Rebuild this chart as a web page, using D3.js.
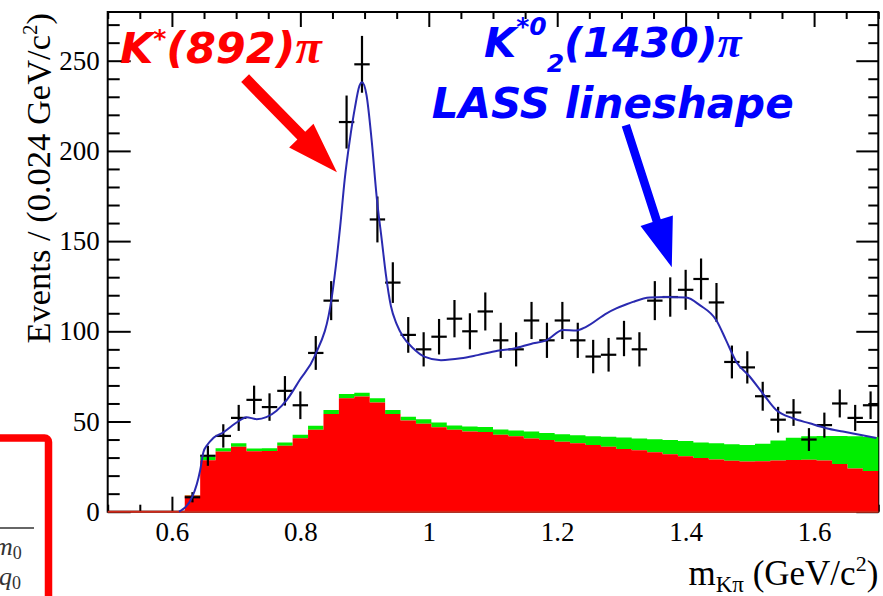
<!DOCTYPE html>
<html>
<head>
<meta charset="utf-8">
<script src="https://cdn.jsdelivr.net/npm/d3@7"></script>
<style>
  body { margin: 0; background: #fff; }
  svg { display: block; }
</style>
</head>
<body>
<svg id="chart" width="883" height="596"></svg>
<script>
// K-pi invariant mass spectrum: data, fit and stacked background components.
const massCenters = [
  0.632, 0.656, 0.680, 0.704, 0.728, 0.752, 0.776, 0.800, 0.824, 0.848,
  0.872, 0.896, 0.920, 0.944, 0.968, 0.992, 1.016, 1.040, 1.064, 1.088,
  1.112, 1.136, 1.160, 1.184, 1.208, 1.232, 1.256, 1.280, 1.304, 1.328,
  1.352, 1.376, 1.400, 1.424, 1.448, 1.472, 1.496, 1.520, 1.544, 1.568,
  1.592, 1.616, 1.640, 1.664, 1.688
];
const events = [
  8, 31, 42, 52, 62, 58, 67, 59, 88, 117,
  216, 248, 162, 127, 98, 90, 97, 107, 100, 111,
  95, 90, 106, 95, 106, 95, 86, 87, 96, 90,
  117, 119, 123, 129, 116, 83, 80, 64, 51, 55,
  40, 48, 60, 52, 59
];
const bkgRed = [
  9, 28.5, 33.4, 36, 33.5, 33.7, 36.5, 40.7, 45.4, 54.2,
  62.9, 63.8, 60.5, 54.2, 50.5, 48.7, 46.8, 45.4, 44.4, 44.2,
  42.6, 41.8, 40.6, 39.8, 38.8, 38, 37, 36, 34.8, 34,
  33, 31.8, 30.8, 29.8, 29, 28.2, 27.8, 28, 28.4, 28.6,
  28.8, 28.4, 26.5, 24, 22.5
];
const bkgGreen = [
  0.3, 1.8, 1.8, 2.0, 1.5, 1.5, 1.8, 1.9, 2.2, 2.2,
  2.4, 2.2, 2.4, 2.2, 2.2, 2.6, 2.6, 2.4, 2.8, 2.8,
  3.0, 3.2, 3.8, 3.8, 4.2, 4.4, 4.8, 5.6, 6.4, 6.6,
  7.2, 8.0, 8.4, 8.6, 9.0, 9.2, 9.2, 9.6, 11.1, 12.4,
  13.0, 13.6, 15.5, 17.8, 18.9
];
const fitMass = [
  0.611, 0.632, 0.644, 0.649, 0.655, 0.664, 0.680, 0.703, 0.716, 0.732,
  0.747, 0.763, 0.779, 0.799, 0.822, 0.849, 0.862, 0.869, 0.877, 0.885,
  0.892, 0.896, 0.903, 0.911, 0.919, 0.927, 0.933, 0.941, 0.950, 0.960,
  0.976, 0.993, 1.019, 1.050, 1.076, 1.107, 1.133, 1.159, 1.183, 1.209,
  1.230, 1.245, 1.277, 1.292, 1.308, 1.318, 1.344, 1.370, 1.401, 1.422,
  1.448, 1.463, 1.479, 1.500, 1.520, 1.541, 1.567, 1.593, 1.619, 1.645,
  1.671, 1.697
];
const fitEvents = [
  0, 8.5, 23, 33, 37, 40.7, 44, 50, 52.4, 51.3,
  52.4, 56, 62, 73, 86, 119, 158, 184, 206, 224,
  236, 238, 231, 206, 174, 150, 132, 114, 104, 97,
  90.5, 86, 84, 85, 86.8, 89.2, 90.5, 93, 95, 100.7,
  100.5, 102.5, 110, 112.7, 115, 116.3, 118.7, 119, 118.7, 114.5,
  106, 95, 83, 74.8, 65.6, 56.4, 51.8, 49, 46.3, 44.4,
  42.6, 40.8
];
const xMajorTicks = [0.6, 0.8, 1.0, 1.2, 1.4, 1.6];
const xTickLabels = ["0.6", "0.8", "1", "1.2", "1.4", "1.6"];
const yMajorTicks = [0, 50, 100, 150, 200, 250];
const binWidth = 0.024;

const svg = d3.select("#chart");
const frame = { left: 107.7, right: 878.3, top: 12, bottom: 511.7 };
const x = d3.scaleLinear().domain([0.5, 1.7]).range([frame.left, frame.right]);
const y = d3.scaleLinear().domain([0, 277]).range([frame.bottom, frame.top]);

const serif = "'Liberation Serif', 'Times New Roman', serif";
const sans = "'DejaVu Sans', Verdana, sans-serif";

const xMinor = d3.range(0.5, 1.7001, 0.05).map(v => +v.toFixed(3)).filter(v => !xMajorTicks.some(t => Math.abs(t - v) < 1e-6));
const yMinor = d3.range(0, 277, 10).filter(v => v % 50 !== 0);

function styleAxis(g) {
  g.select(".domain").remove();
  g.selectAll(".tick line").attr("stroke", "#000").attr("stroke-width", 2);
}

// ---- axes (ticks point into the frame) ----
svg.append("g").attr("transform", `translate(${frame.left},0)`)
  .call(d3.axisLeft(y).tickValues(yMajorTicks).tickSize(-23).tickPadding(8).tickFormat(d3.format("d")))
  .call(styleAxis)
  .call(g => g.selectAll("text").attr("font-family", serif).attr("font-size", 27).attr("fill", "#000"));
svg.append("g").attr("transform", `translate(${frame.left},0)`)
  .call(d3.axisLeft(y).tickValues(yMinor).tickSize(-12).tickFormat(""))
  .call(styleAxis);
svg.append("g").attr("transform", `translate(${frame.right},0)`)
  .call(d3.axisRight(y).tickValues(yMajorTicks).tickSize(-22).tickFormat(""))
  .call(styleAxis);
svg.append("g").attr("transform", `translate(${frame.right},0)`)
  .call(d3.axisRight(y).tickValues(yMinor).tickSize(-10).tickFormat(""))
  .call(styleAxis);
svg.append("g").attr("transform", `translate(0,${frame.top})`)
  .call(d3.axisTop(x).tickValues(xMajorTicks).tickSize(-15).tickFormat(""))
  .call(styleAxis);
svg.append("g").attr("transform", `translate(0,${frame.top})`)
  .call(d3.axisTop(x).tickValues(xMinor).tickSize(-7).tickFormat(""))
  .call(styleAxis);
svg.append("g").attr("transform", `translate(0,${frame.bottom})`)
  .call(d3.axisBottom(x).tickValues(xMajorTicks).tickSize(-15).tickPadding(10).tickFormat((d, i) => xTickLabels[i]))
  .call(styleAxis)
  .call(g => g.selectAll("text").attr("font-family", serif).attr("font-size", 27).attr("fill", "#000"));
svg.append("g").attr("transform", `translate(0,${frame.bottom})`)
  .call(d3.axisBottom(x).tickValues(xMinor).tickSize(-7).tickFormat(""))
  .call(styleAxis);

svg.append("rect")
  .attr("x", frame.left).attr("y", frame.top)
  .attr("width", frame.right - frame.left).attr("height", frame.bottom - frame.top)
  .attr("fill", "none").attr("stroke", "#000").attr("stroke-width", 2);

// ---- stacked background histograms ----
const bins = massCenters.map((m, i) => ({
  lo: m - binWidth / 2, hi: m + binWidth / 2,
  red: bkgRed[i], total: bkgRed[i] + bkgGreen[i]
}));
const steps = bins.flatMap(b => [{ m: b.lo, b }, { m: b.hi, b }]);

svg.append("path").datum(steps)
  .attr("fill", "#00ee00")
  .attr("d", d3.area().x(d => x(d.m)).y0(d => y(d.b.red)).y1(d => y(d.b.total)));
svg.append("path").datum(steps)
  .attr("fill", "#ff0000")
  .attr("d", d3.area().x(d => x(d.m)).y0(y(0)).y1(d => y(d.b.red)));
svg.append("line")
  .attr("x1", x(0.5)).attr("x2", x(1.7)).attr("y1", y(0)).attr("y2", y(0))
  .attr("stroke", "#d02a1a").attr("stroke-width", 2);

// ---- data points with Poisson errors ----
const pts = svg.append("g").attr("stroke", "#000").attr("stroke-width", 2.2);
massCenters.forEach((m, i) => {
  const n = events[i], e = Math.sqrt(n);
  pts.append("line").attr("x1", x(m - binWidth / 2)).attr("x2", x(m + binWidth / 2))
    .attr("y1", y(n)).attr("y2", y(n));
  pts.append("line").attr("x1", x(m)).attr("x2", x(m))
    .attr("y1", y(Math.max(0, n - e))).attr("y2", y(n + e));
});

// ---- total fit ----
svg.append("path")
  .datum(fitMass.map((m, i) => [m, fitEvents[i]]))
  .attr("fill", "none").attr("stroke", "#2a2ab0").attr("stroke-width", 2)
  .attr("d", d3.line().x(d => x(d[0])).y(d => y(d[1])).curve(d3.curveMonotoneX));

// ---- axis titles ----
const yTitle = svg.append("text")
  .attr("transform", `translate(50,${frame.top + 1}) rotate(-90)`)
  .attr("text-anchor", "end")
  .attr("font-family", serif).attr("font-size", 34.5).attr("fill", "#000");
yTitle.append("tspan").text("Events / (0.024 GeV/c");
yTitle.append("tspan").attr("font-size", 21).attr("dy", -13).text("2");
yTitle.append("tspan").attr("dy", 13).text(")");

const xTitle = svg.append("text")
  .attr("x", frame.right).attr("y", 585)
  .attr("text-anchor", "end")
  .attr("font-family", serif).attr("font-size", 35).attr("fill", "#000");
xTitle.append("tspan").text("m");
xTitle.append("tspan").attr("font-size", 23).attr("dy", 7).text("Kπ");
xTitle.append("tspan").attr("dy", -7).text(" (GeV/c");
xTitle.append("tspan").attr("font-size", 22).attr("dy", -14).text("2");
xTitle.append("tspan").attr("dy", 14).text(")");

// ---- resonance annotations ----
function arrow(from, to, shaft, headW, headL, color) {
  const x0 = x(from[0]), y0 = y(from[1]), x1 = x(to[0]), y1 = y(to[1]);
  const dx = x1 - x0, dy = y1 - y0, len = Math.hypot(dx, dy);
  const ux = dx / len, uy = dy / len, nx = -uy, ny = ux;
  const bx = x1 - ux * headL, by = y1 - uy * headL;
  const p = [
    [x0 + nx * shaft / 2, y0 + ny * shaft / 2],
    [bx + nx * shaft / 2, by + ny * shaft / 2],
    [bx + nx * headW / 2, by + ny * headW / 2],
    [x1, y1],
    [bx - nx * headW / 2, by - ny * headW / 2],
    [bx - nx * shaft / 2, by - ny * shaft / 2],
    [x0 - nx * shaft / 2, y0 - ny * shaft / 2]
  ];
  svg.append("path").attr("d", "M" + p.map(q => q.join(",")).join("L") + "Z").attr("fill", color);
}

const kstarLabel = svg.append("text")
  .attr("x", x(0.519)).attr("y", y(248.6))
  .attr("font-family", sans).attr("font-weight", "bold").attr("font-style", "italic")
  .attr("font-size", 43).attr("fill", "#ff0000");
kstarLabel.append("tspan").text("K");
kstarLabel.append("tspan").attr("font-size", 25).attr("dy", -16).text("*");
kstarLabel.append("tspan").attr("dy", 16).text("(892)");
kstarLabel.append("tspan").attr("font-family", serif).attr("font-size", 48).text("π");
arrow([0.714, 240.3], [0.857, 188.2], 11, 34, 51, "#ff0000");

const k2Label = svg.append("text")
  .attr("x", x(1.2865)).attr("y", y(251.9))
  .attr("text-anchor", "middle")
  .attr("font-family", sans).attr("font-weight", "bold").attr("font-style", "italic")
  .attr("font-size", 41.5).attr("fill", "#0000ff");
k2Label.append("tspan").text("K");
k2Label.append("tspan").attr("font-size", 25).attr("dy", -22).text("*0");
k2Label.append("tspan").attr("font-size", 25).attr("dy", 37).text("2");
k2Label.append("tspan").attr("dy", -15).text("(1430)");
k2Label.append("tspan").attr("font-family", serif).attr("font-size", 44).text("π");
svg.append("text")
  .attr("x", x(1.2865)).attr("y", y(218.1))
  .attr("text-anchor", "middle")
  .attr("font-family", sans).attr("font-weight", "bold").attr("font-style", "italic")
  .attr("font-size", 42).attr("fill", "#0000ff")
  .text("LASS lineshape");
arrow([1.3068, 214.2], [1.3784, 135.5], 8.5, 34, 49, "#0000ff");

// ---- neighbouring formula panel at the lower left ----
svg.append("rect")
  .attr("x", -20).attr("y", 438).attr("width", 68.5).attr("height", 220).attr("rx", 4)
  .attr("fill", "none").attr("stroke", "#ff0000").attr("stroke-width", 7.5);
svg.append("line").attr("x1", -5).attr("x2", 34).attr("y1", 528).attr("y2", 528)
  .attr("stroke", "#333").attr("stroke-width", 1.6);
const num = svg.append("text").attr("x", -6).attr("y", 555)
  .attr("font-family", serif).attr("font-style", "italic").attr("font-size", 26).attr("fill", "#333");
num.append("tspan").text("m");
num.append("tspan").attr("font-style", "normal").attr("font-size", 18).attr("dy", 4).text("0");
const den = svg.append("text").attr("x", -1).attr("y", 585)
  .attr("font-family", serif).attr("font-style", "italic").attr("font-size", 26).attr("fill", "#333");
den.append("tspan").text("q");
den.append("tspan").attr("font-style", "normal").attr("font-size", 18).attr("dy", 4).text("0");
</script>
</body>
</html>
